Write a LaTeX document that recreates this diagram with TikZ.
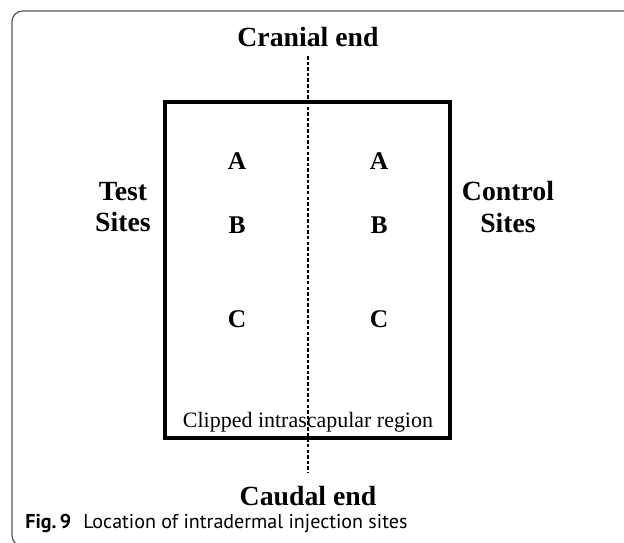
\documentclass[tikz,border=0pt]{standalone}
\usepackage{fontspec}
\setmainfont{Liberation Serif}
\newfontfamily\capfont{PT Sans}
\usepackage{tikz}
\usetikzlibrary{positioning}

\begin{document}
\begin{tikzpicture}[x=0.02cm, y=-0.02cm,
        site/.style={font=\fontsize{14.5}{16}\selectfont\bfseries},
        side/.style={font=\fontsize{15.8}{18}\selectfont\bfseries, align=center},
        axis/.style={dash pattern=on 2pt off 1.2pt, line width=0.6pt}]
    \useasboundingbox (0, 0) rectangle (624, 542);
    \begin{scope}
        \clip (0, 0) rectangle (624, 542);
        \draw[gray!70!black, line width=0.7pt, rounded corners=6pt] (12, 11) rectangle (660, 546);
    \end{scope}

    \node[side] (cranial) at (308, 37) {Cranial end};
    \node[side] (caudal) at (308, 496) {Caudal end};
    \coordinate (top) at (308, 56);
    \coordinate (bottom) at (308, 473);
    \draw[axis] (top) -- (bottom);

    \draw[line width=2.3pt] (165, 102) rectangle (450, 438);

    \node[side] (test) at (123, 207) {Test\\Sites};
    \node[side] (control) at (508, 207) {Control\\Sites};

    \node[site] (testA) at (237, 161) {A};
    \node[site] (testB) at (237, 225) {B};
    \node[site] (testC) at (237, 319) {C};
    \node[site] (controlA) at (379, 161) {A};
    \node[site] (controlB) at (379, 225) {B};
    \node[site] (controlC) at (379, 319) {C};

    \node[font=\fontsize{12.5}{14}\selectfont] (region) at (308, 422) {Clipped intrascapular region};

    \node[anchor=west, font=\capfont\fontsize{11.4}{13}\selectfont, inner sep=0pt] (caption) at (25, 523)
        {\textbf{Fig.\,9}\hspace{0.6em}Location of intradermal injection sites};
\end{tikzpicture}
\end{document}
